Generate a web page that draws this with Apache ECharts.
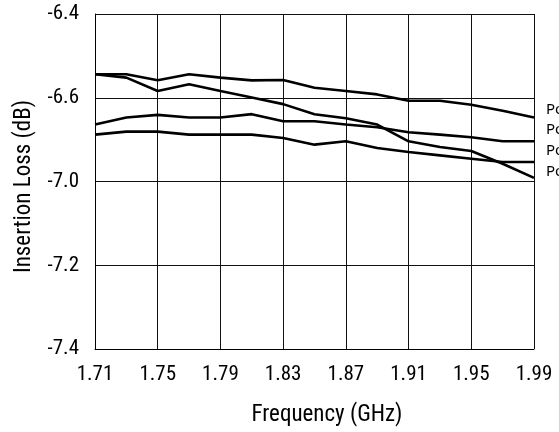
<!DOCTYPE html>
<html>
<head>
<meta charset="utf-8">
<script src="https://cdn.jsdelivr.net/npm/echarts@6/dist/echarts.min.js"></script>
<style>
html, body { margin: 0; padding: 0; background: #fff; }
#chart { width: 559px; height: 432px; }
</style>
</head>
<body>
<div id="chart"></div>
<script>
// frequency points (GHz)
var freqs = [1.71, 1.73, 1.75, 1.77, 1.79, 1.81, 1.83, 1.85, 1.87, 1.89, 1.91, 1.93, 1.95, 1.97, 1.99];
// tick labels as printed on the original (y axis)
var yTickLabels = ['-7.4', '-7.2', '-7.0', '-6.6', '-6.4'];
var xTickLabels = ['1.71', '1.75', '1.79', '1.83', '1.87', '1.91', '1.95', '1.99'];
var seriesNames = ['Pout = +10 dBm', 'Pout = +15 dBm', 'Pout = +20 dBm', 'Pout = +25 dBm'];

// insertion loss curves
var lossA = [-6.580, -6.580, -6.598, -6.580, -6.590, -6.598, -6.597, -6.620, -6.630, -6.640, -6.659, -6.659, -6.671, -6.689, -6.709];
var lossC = [-6.730, -6.709, -6.701, -6.709, -6.709, -6.699, -6.720, -6.720, -6.730, -6.738, -6.753, -6.760, -6.768, -6.780, -6.780];
var lossD = [-6.760, -6.751, -6.751, -6.760, -6.760, -6.760, -6.770, -6.790, -6.780, -6.800, -6.812, -6.822, -6.832, -6.842, -6.842];
var lossB = [-6.580, -6.590, -6.630, -6.610, -6.630, -6.649, -6.669, -6.699, -6.711, -6.730, -6.780, -6.797, -6.809, -6.847, -6.889];

var axisFont = '"Roboto Condensed", "DejaVu Sans Condensed", "Liberation Sans Narrow", Roboto, sans-serif';

function pairs(ys) {
    var out = [];
    for (var i = 0; i < freqs.length; i++) {
        out.push([freqs[i], ys[i]]);
    }
    return out;
}

function makeSeries(name, ys) {
    return {
        name: name,
        type: 'line',
        data: pairs(ys),
        symbol: 'none',
        silent: true,
        lineStyle: { color: '#000', width: 2.6 },
        itemStyle: { color: '#000' }
    };
}

var myChart = echarts.init(document.getElementById('chart'));

var option = {
    animation: false,
    grid: { left: 95, right: 25, top: 14, bottom: 80 },
    legend: {
        orient: 'vertical',
        left: 536,
        top: 97,
        icon: 'none',
        itemWidth: 0,
        itemHeight: 15,
        itemGap: 5.6,
        selectedMode: false,
        data: seriesNames,
        textStyle: { fontFamily: '"Noto Sans", sans-serif', fontSize: 15, color: '#000' }
    },
    xAxis: {
        type: 'value',
        min: 1.71,
        max: 1.99,
        interval: 0.04,
        name: 'Frequency (GHz)',
        nameLocation: 'middle',
        nameGap: 55,
        nameTextStyle: { fontFamily: axisFont, fontSize: 23, color: '#000', padding: [0, 0, 0, 25] },
        axisLine: { show: true, lineStyle: { color: '#000', width: 1 } },
        axisTick: { show: false },
        axisLabel: {
            margin: 15,
            fontFamily: axisFont,
            fontSize: 21,
            color: '#000',
            formatter: function (v) {
                var i = Math.round((v - 1.71) / 0.04);
                return xTickLabels[i] || '';
            }
        },
        splitLine: { show: true, lineStyle: { color: '#111', width: 1 } }
    },
    yAxis: {
        type: 'value',
        min: -7.4,
        max: -6.4,
        interval: 0.25,
        name: 'Insertion Loss (dB)',
        nameLocation: 'middle',
        nameGap: 59,
        nameTextStyle: { fontFamily: axisFont, fontSize: 23, color: '#000', padding: [0, 10, 0, 0] },
        axisLine: { show: true, lineStyle: { color: '#000', width: 1 } },
        axisTick: { show: false },
        axisLabel: {
            margin: 16,
            fontFamily: axisFont,
            fontSize: 21,
            color: '#000',
            formatter: function (v) {
                var i = Math.round((v + 7.4) / 0.25);
                return yTickLabels[i] || '';
            }
        },
        splitLine: { show: true, lineStyle: { color: '#111', width: 1 } }
    },
    series: [
        makeSeries(seriesNames[0], lossA),
        makeSeries(seriesNames[1], lossC),
        makeSeries(seriesNames[2], lossD),
        makeSeries(seriesNames[3], lossB)
    ]
};

myChart.setOption(option);
</script>
</body>
</html>
